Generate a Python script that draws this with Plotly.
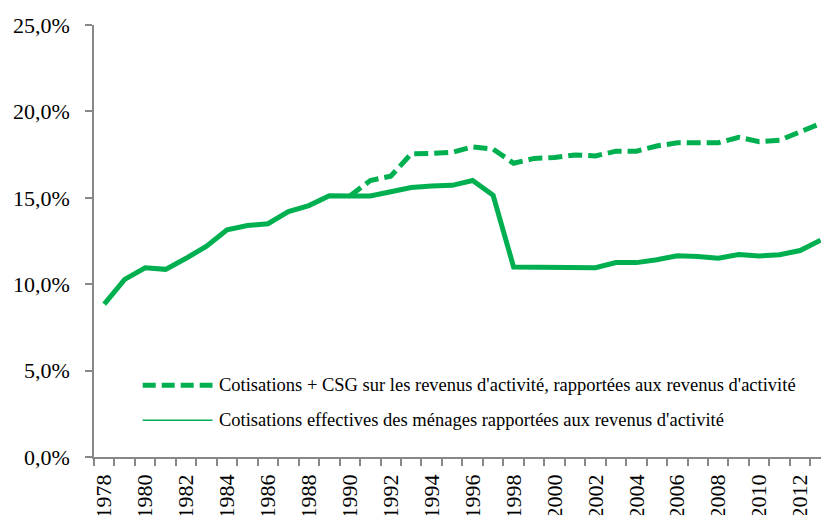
import plotly.graph_objects as go

years = list(range(1978, 2014))

# Cotisations effectives des ménages rapportées aux revenus d'activité (%)
solid_values = [8.85, 10.28, 10.95, 10.86, 11.5, 12.2, 13.15, 13.4, 13.5, 14.2,
                14.55, 15.12, 15.1, 15.1, 15.35, 15.6, 15.68, 15.72, 16.0, 15.15,
                11.0, 11.0, 10.95, 10.95, 10.95, 11.25, 11.25, 11.42, 11.65, 11.6,
                11.5, 11.72, 11.63, 11.7, 11.95, 12.55]

# Cotisations + CSG sur les revenus d'activité (%)
dashed_values = [None] * 12 + [15.1, 16.0, 16.25, 17.55, 17.57, 17.63, 17.95, 17.82,
                 17.0, 17.28, 17.33, 17.48, 17.42, 17.7, 17.7, 18.0, 18.18, 18.15,
                 18.18, 18.5, 18.25, 18.33, 18.85, 19.3]

legend_labels = [
    "Cotisations + CSG sur les revenus d'activité, rapportées aux revenus d'activité",
    "Cotisations effectives des ménages rapportées aux revenus d'activité",
]

y_ticks = [0, 5, 10, 15, 20, 25]
y_ticktext = ["0,0%", "5,0%", "10,0%", "15,0%", "20,0%", "25,0%"]
x_label_years = list(range(1978, 2013, 2))
x_boundaries = [y - 0.5 for y in range(1978, 2015)]

GREEN = "#00B050"
AXIS = "#878787"
FONT = "Liberation Serif, Times New Roman, serif"

fig = go.Figure()
fig.add_trace(go.Scatter(x=years, y=dashed_values, mode="lines",
                         line=dict(color=GREEN, width=5, dash="14px,6px"),
                         name=legend_labels[0], showlegend=False))
fig.add_trace(go.Scatter(x=years, y=solid_values, mode="lines",
                         line=dict(color=GREEN, width=5),
                         name=legend_labels[1], showlegend=False))

# manual legend (samples + text)
leg_rows = [(0.166, dict(color=GREEN, width=5, dash="13px,6px")),
            (0.085, dict(color=GREEN, width=1.5))]
for (yp, ln), label in zip(leg_rows, legend_labels):
    fig.add_shape(type="line", xref="paper", yref="paper",
                  x0=0.067, x1=0.163, y0=yp, y1=yp, line=ln)
    fig.add_annotation(xref="paper", yref="paper", x=0.169, y=yp,
                       xanchor="left", yanchor="middle", showarrow=False,
                       text=label, font=dict(family=FONT, size=18.5, color="black"))

fig.update_layout(
    width=821, height=515,
    margin=dict(l=94, r=0, t=25, b=58),
    paper_bgcolor="white", plot_bgcolor="white",
    font=dict(family=FONT, color="black"),
    showlegend=False,
    xaxis=dict(
        range=[1977.5, 2013.02],
        tickvals=x_label_years,
        ticktext=[str(y) for y in x_label_years],
        tickangle=-90,
        ticks="",
        ticklabelstandoff=7,
        automargin=False,
        tickfont=dict(family=FONT, size=22, color="black"),
        showline=True, linecolor=AXIS, linewidth=1.5,
        showgrid=False, zeroline=False,
        minor=dict(tickvals=x_boundaries, ticks="outside", ticklen=7,
                   tickcolor=AXIS, tickwidth=1.5, showgrid=False),
    ),
    yaxis=dict(
        range=[0, 25],
        tickvals=y_ticks,
        ticktext=y_ticktext,
        ticks="outside", ticklen=7, tickcolor=AXIS, tickwidth=1.5,
        ticklabelstandoff=11,
        automargin=False,
        tickfont=dict(family=FONT, size=22, color="black"),
        showline=True, linecolor=AXIS, linewidth=1.5,
        showgrid=False, zeroline=False,
    ),
)

fig.write_html("out.html",
               config={"displayModeBar": False},
               post_script="document.body.style.margin='0';document.body.style.overflow='hidden';")
